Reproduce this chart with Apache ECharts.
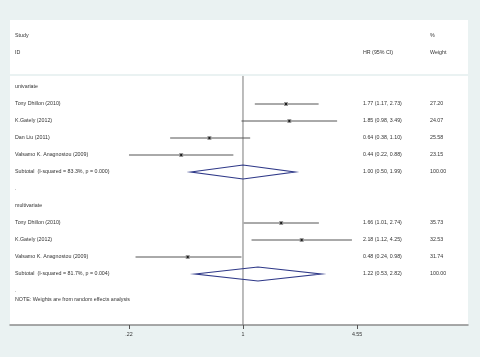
<!DOCTYPE html>
<html>
<head>
<meta charset="utf-8">
<script src="https://cdn.jsdelivr.net/npm/echarts@6/dist/echarts.min.js"></script>
<style>
  html, body { margin: 0; padding: 0; background: #eaf2f2; }
  #chart { width: 480px; height: 357px; }
</style>
</head>
<body>
<div id="chart"></div>
<script>
// study rows
const studies = ['Tony Dhillon (2010)', 'K.Gately (2012)', 'Dan Liu (2011)', 'Valsamo K. Anagnostou (2009)',
                 'Tony Dhillon (2010)', 'K.Gately (2012)', 'Valsamo K. Anagnostou (2009)'];
const studyRows = [4, 5, 6, 7, 11, 12, 13];
const hr = [1.77, 1.85, 0.64, 0.44, 1.66, 2.18, 0.48];
const lower = [1.17, 0.98, 0.38, 0.22, 1.01, 1.12, 0.24];
const upper = [2.73, 3.49, 1.10, 0.88, 2.74, 4.25, 0.98];
const weights = ['27.20', '24.07', '25.58', '23.15', '35.73', '32.53', '31.74'];

// subtotals
const subLabels = ['Subtotal  (I-squared = 83.3%, p = 0.000)', 'Subtotal  (I-squared = 81.7%, p = 0.004)'];
const subRows = [8, 14];
const subHr = [1.00, 1.22];
const subLower = [0.50, 0.53];
const subUpper = [1.99, 2.82];
const subWeights = ['100.00', '100.00'];

const groups = ['univariate', 'multivariate'];
const groupRows = [3, 10];

const tickValues = [0.22, 1, 4.55];
const tickLabels = ['.22', '1', '4.55'];

const ln = Math.log;
const ci = (h, l, u) => h.toFixed(2) + ' (' + l.toFixed(2) + ', ' + u.toFixed(2) + ')';

// text rows: [row, left, middle, right]
const textRows = [
  [0, 'Study', '', '%'],
  [1, 'ID', 'HR (95% CI)', 'Weight']
];
groups.forEach((g, i) => textRows.push([groupRows[i], g, '', '']));
studies.forEach((s, i) => textRows.push([studyRows[i], s, ci(hr[i], lower[i], upper[i]), weights[i]]));
subLabels.forEach((s, i) => textRows.push([subRows[i], s, ci(subHr[i], subLower[i], subUpper[i]), subWeights[i]]));
textRows.push([9, '.', '', '']);
textRows.push([15, '.', '', '']);
textRows.push([15.5, 'NOTE: Weights are from random effects analysis', '', '']);

const font = '"Liberation Sans", Arial, sans-serif';
const fs = 5.3;
const txtColor = '#333';

const chart = echarts.init(document.getElementById('chart'));
chart.setOption({
  backgroundColor: '#eaf2f2',
  animation: false,
  graphic: [
    { type: 'rect', z: -10, shape: { x: 10, y: 20, width: 458, height: 54 }, style: { fill: '#fff' } },
    { type: 'rect', z: -10, shape: { x: 10, y: 76, width: 458, height: 249 }, style: { fill: '#fff' } }
  ],
  grid: { left: 10, right: 12, top: 19, bottom: 32 },
  xAxis: {
    type: 'value',
    position: 'bottom',
    min: ln(0.0453),
    max: ln(19.85),
    splitLine: { show: false },
    axisLine: { onZero: false, lineStyle: { color: '#8c8c8c', width: 1.5 } },
    axisTick: { customValues: tickValues.map(ln), length: 4, lineStyle: { color: '#555' } },
    axisLabel: {
      customValues: tickValues.map(ln),
      formatter: v => {
        const i = tickValues.findIndex(t => Math.abs(ln(t) - v) < 1e-6);
        return i >= 0 ? tickLabels[i] : '';
      },
      fontSize: fs, color: txtColor, fontFamily: font, margin: 7
    }
  },
  yAxis: { type: 'value', inverse: true, min: -1, max: 17, show: false },
  series: [
    {
      // null line at HR = 1
      type: 'custom',
      data: [[0]],
      renderItem: (params, api) => {
        const a = api.coord([0, 2.35]);
        const b = api.coord([0, 17]);
        return { type: 'line', shape: { x1: a[0], y1: a[1], x2: b[0], y2: b[1] },
                 style: { stroke: '#7a7a7a', lineWidth: 1 } };
      }
    },
    {
      // study CIs and point estimates
      type: 'custom',
      data: hr.map((h, i) => [ln(lower[i]), ln(upper[i]), ln(h), studyRows[i]]),
      renderItem: (params, api) => {
        const row = api.value(3);
        const a = api.coord([api.value(0), row]);
        const b = api.coord([api.value(1), row]);
        const c = api.coord([api.value(2), row]);
        return {
          type: 'group',
          children: [
            { type: 'line', shape: { x1: a[0], y1: a[1], x2: b[0], y2: b[1] },
              style: { stroke: '#555', lineWidth: 1 } },
            { type: 'rect', shape: { x: c[0] - 2, y: c[1] - 2, width: 4, height: 4 },
              style: { fill: '#9a9a9a' } },
            { type: 'rect', shape: { x: c[0] - 1, y: c[1] - 1, width: 2, height: 2 },
              style: { fill: '#1e1e1e' } }
          ]
        };
      }
    },
    {
      // subtotal diamonds
      type: 'custom',
      data: subHr.map((h, i) => [ln(subLower[i]), ln(subUpper[i]), ln(h), subRows[i]]),
      renderItem: (params, api) => {
        const row = api.value(3);
        const a = api.coord([api.value(0), row]);
        const b = api.coord([api.value(1), row]);
        const c = api.coord([api.value(2), row]);
        return {
          type: 'polygon',
          shape: { points: [a, [c[0], c[1] - 7], b, [c[0], c[1] + 7]] },
          style: { fill: 'none', stroke: '#2e3888', lineWidth: 1.2 }
        };
      }
    },
    {
      // text columns
      type: 'custom',
      data: textRows.map(r => [r[0]]),
      renderItem: (params, api) => {
        const r = textRows[params.dataIndex];
        const y = api.coord([0, api.value(0)])[1];
        const mk = (x, t) => ({ type: 'text', x: x, y: y,
          style: { text: t, fill: txtColor, font: fs + 'px ' + font, verticalAlign: 'middle', align: 'left' } });
        return { type: 'group', children: [mk(15, r[1]), mk(363, r[2]), mk(430, r[3])] };
      }
    }
  ]
});
</script>
</body>
</html>
